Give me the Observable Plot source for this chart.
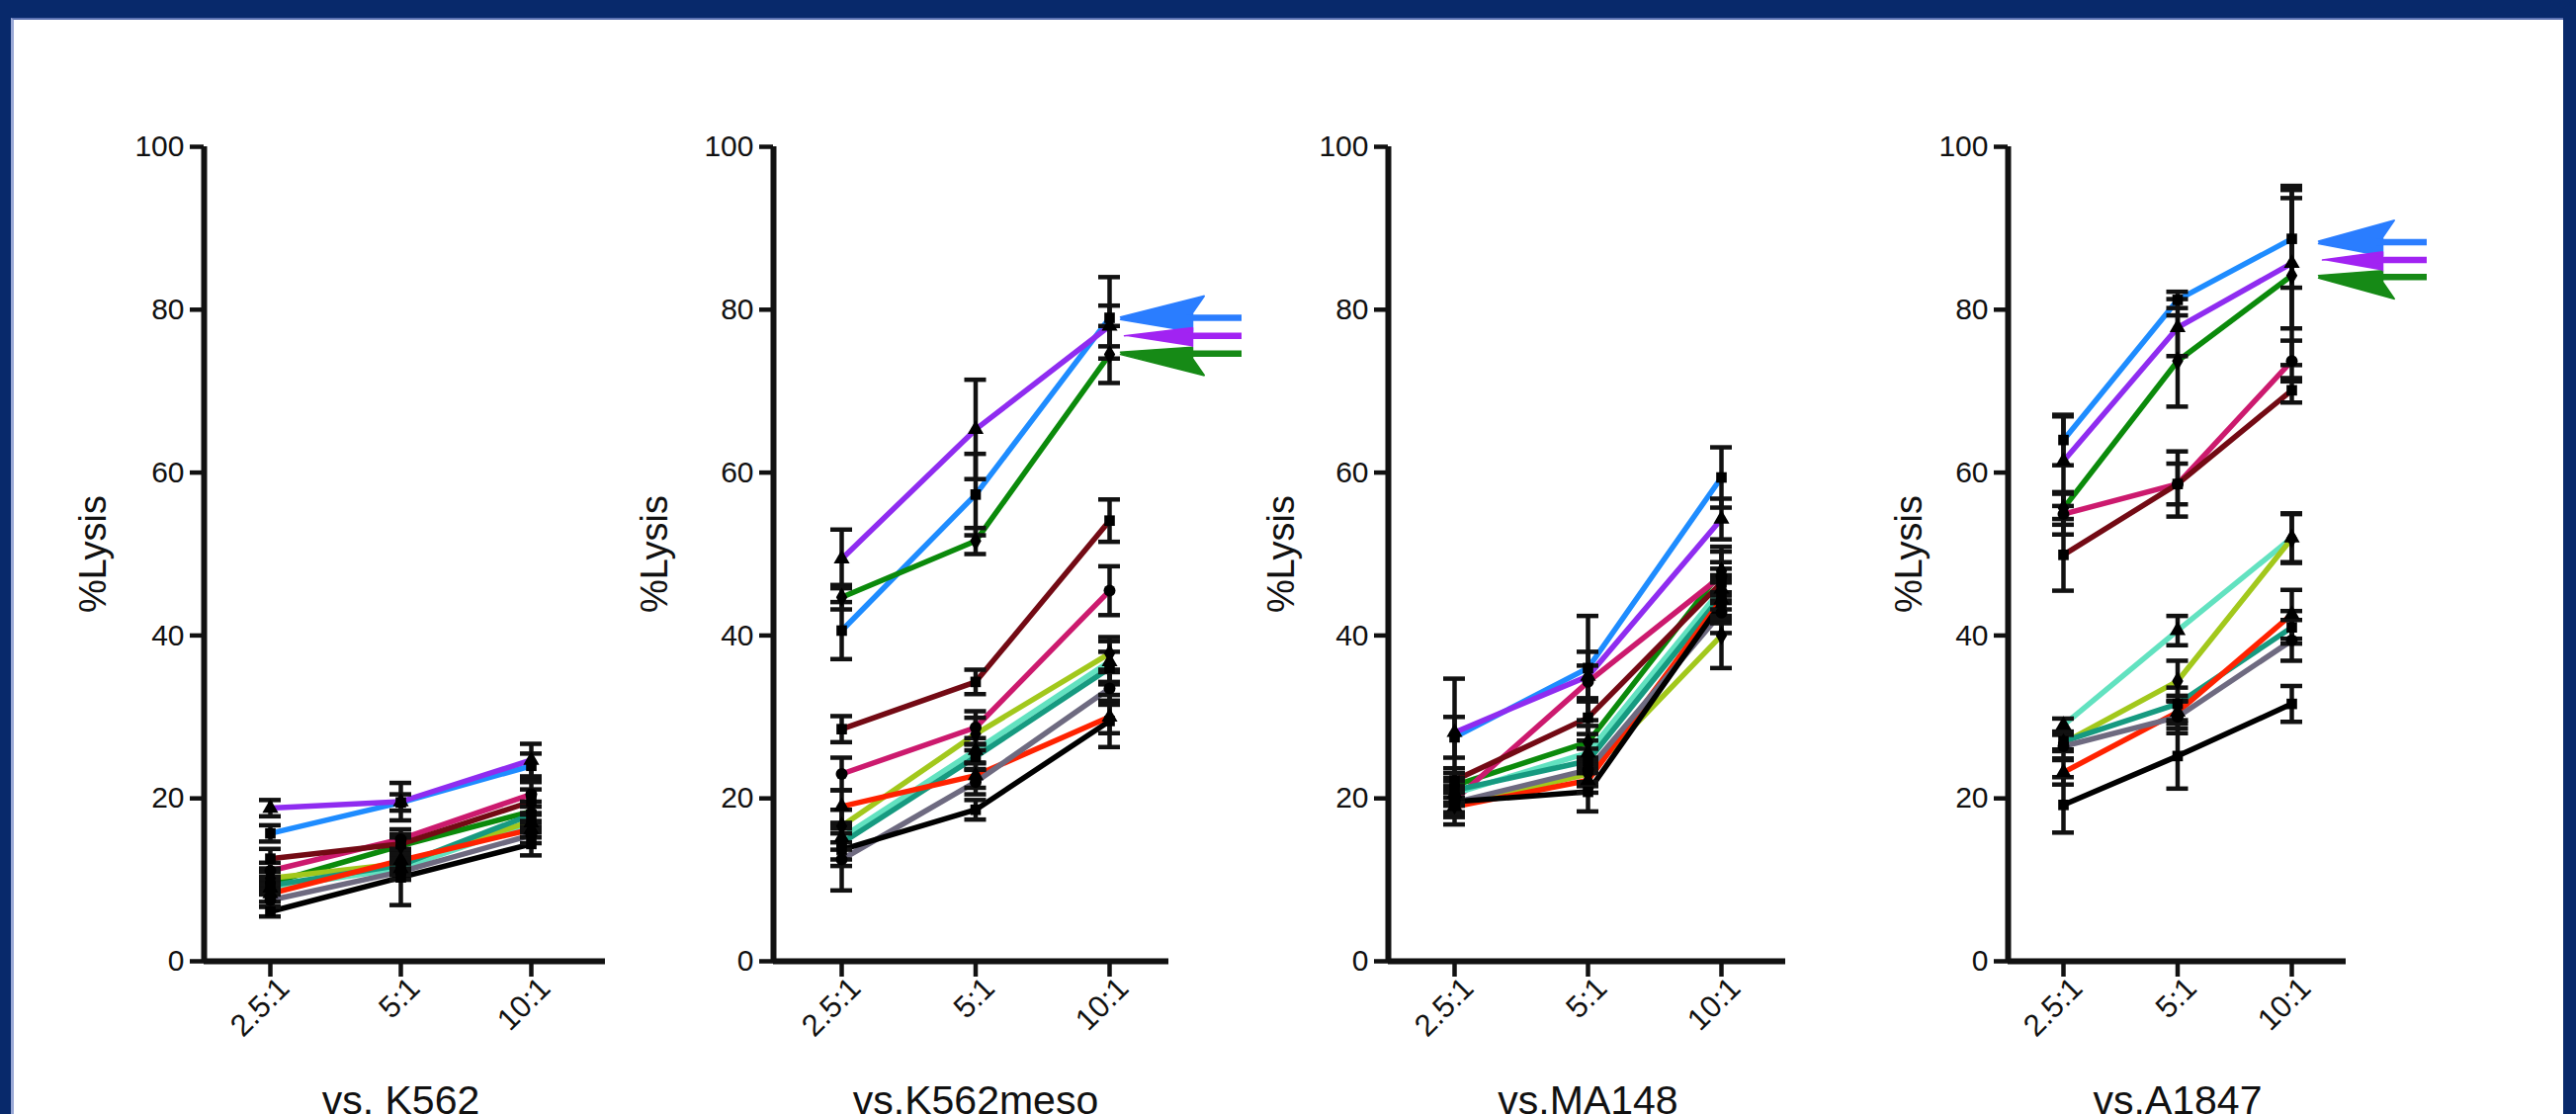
<!DOCTYPE html>
<html><head><meta charset="utf-8">
<script src="https://cdn.jsdelivr.net/npm/d3@7"></script>
<script src="https://cdn.jsdelivr.net/npm/@observablehq/plot@0.6"></script>
<style>
html,body{margin:0;padding:0;background:#08296b;}
#frame{position:relative;width:2606px;height:1127px;background:#08296b;overflow:hidden;font-family:"Liberation Sans",Arial,sans-serif;}
#inner{position:absolute;left:11px;top:18px;right:13px;bottom:-10px;background:#fff;border-left:3px solid #9aa9d6;border-top:2px solid #5a70b0;}
.panel{position:absolute;top:0;}
</style></head>
<body><div id="frame"><div id="inner"></div></div>
<script>
// ---- data ----
const ratios = ["2.5:1", "5:1", "10:1"];
const targets = ["vs. K562", "vs.K562meso", "vs.MA148", "vs.A1847"];
const seriesNames = ["blue", "purple", "green", "crimson", "maroon", "aqua", "yellowgreen", "teal", "red", "gray", "black"];
const seriesColors = ["#1e8cff", "#8f2cf0", "#0b8a0b", "#cc1a6e", "#730a14", "#62e2c0", "#a2c81c", "#169a80", "#ff2200", "#6e6a80", "#000000"];

const k562Lysis = [
  [15.7, 19.5, 24.0], [18.8, 19.6, 24.7], [9.6, 14.2, 18.4], [11.1, 15.0, 20.5], [12.6, 14.4, 19.6],
  [9.0, 11.4, 17.0], [10.2, 12.0, 17.2], [9.3, 11.8, 18.0], [8.3, 12.4, 16.2], [7.5, 11.0, 15.5], [6.1, 10.3, 14.4]
];
const k562Sem = [
  [1.0, 1.0, 1.5], [1.0, 2.3, 2.0], [0.8, 1.0, 1.2], [1.0, 1.2, 1.5], [1.2, 1.2, 1.5],
  [0.8, 0.8, 1.0], [0.8, 0.8, 1.0], [0.8, 0.8, 1.0], [1.0, 1.0, 1.0], [0.8, 1.0, 1.0], [0.6, 3.4, 1.4]
];
const k562mesoLysis = [
  [40.6, 57.3, 79.0], [49.4, 65.3, 78.0], [44.7, 51.6, 74.5], [23.0, 28.7, 45.5], [28.5, 34.3, 54.1],
  [15.2, 25.9, 36.8], [16.6, 27.9, 37.8], [14.5, 25.1, 36.0], [19.0, 22.8, 30.0], [12.5, 22.0, 33.5], [13.7, 18.6, 29.5]
];
const k562mesoSem = [
  [3.5, 5.0, 5.0], [3.6, 6.1, 2.5], [1.5, 1.6, 3.5], [2.0, 2.0, 3.0], [1.6, 1.5, 2.6],
  [1.5, 1.5, 2.5], [2.0, 2.0, 2.0], [2.0, 1.5, 2.0], [2.0, 1.5, 2.0], [3.8, 1.5, 2.0], [2.0, 1.2, 3.2]
];
const ma148Lysis = [
  [27.5, 36.0, 59.4], [28.1, 35.0, 54.3], [21.6, 26.9, 47.9], [19.8, 34.3, 47.3], [22.2, 29.9, 46.5],
  [20.6, 25.6, 45.7], [19.2, 23.0, 40.0], [21.0, 24.6, 44.9], [19.0, 22.2, 44.4], [19.5, 23.5, 42.8], [19.6, 20.8, 44.0]
];
const ma148Sem = [
  [2.5, 6.4, 3.7], [6.6, 3.0, 2.5], [1.5, 2.0, 3.0], [1.5, 2.0, 3.0], [1.5, 2.0, 2.5],
  [1.5, 1.5, 2.5], [1.5, 1.5, 4.0], [1.5, 1.5, 2.5], [2.2, 1.5, 2.5], [1.5, 1.5, 2.5], [1.5, 2.4, 2.5]
];
const a1847Lysis = [
  [64.0, 81.2, 88.7], [61.4, 77.8, 85.7], [55.6, 73.7, 84.2], [54.9, 58.6, 73.7], [49.9, 58.6, 70.1],
  [29.0, 40.6, 52.0], [26.8, 34.4, 51.9], [27.0, 31.6, 41.0], [23.2, 30.6, 42.6], [26.4, 30.0, 39.4], [19.2, 25.2, 31.6]
];
const a1847Sem = [
  [3.1, 1.0, 6.0], [5.5, 3.5, 8.0], [2.0, 5.6, 11.0], [2.5, 4.0, 2.5], [4.4, 2.5, 1.5],
  [0.8, 1.8, 3.0], [1.0, 2.5, 3.0], [1.0, 2.0, 2.0], [1.5, 2.0, 3.0], [1.5, 2.0, 2.5], [3.4, 4.0, 2.2]
];
const arrowSeries = ["blue", "purple", "green"];
const k562mesoArrowLevels = [79.0, 76.8, 74.6];
const a1847ArrowLevels = [88.3, 86.1, 84.0];

// ---- layout (page pixels) ----
const layout = [
  {axis: 206, ticks: [273, 404, 537], end: 612, labelOffset: 112},
  {axis: 782, ticks: [851, 986, 1122], end: 1182, labelOffset: 120, arrow: {tip: 11, back: 96, end: 134}},
  {axis: 1404, ticks: [1471, 1607, 1741], end: 1806, labelOffset: 108},
  {axis: 2031, ticks: [2087, 2203, 2318], end: 2373, labelOffset: 100, arrow: {tip: 27, back: 104, end: 137}}
];
const symbols = ["square", "triangle", "diamond", "circle", "square", "triangle", "diamond", "square", "triangle", "circle", "square"];
const arrowColors = {blue: "#2a7dff", purple: "#a123f2", green: "#168a16"};
const TOP = 148, BOTTOM = 972, H = 1127;

const panels = [
  {title: targets[0], values: k562Lysis, errs: k562Sem},
  {title: targets[1], values: k562mesoLysis, errs: k562mesoSem, arrows: k562mesoArrowLevels},
  {title: targets[2], values: ma148Lysis, errs: ma148Sem},
  {title: targets[3], values: a1847Lysis, errs: a1847Sem, arrows: a1847ArrowLevels}
];

const frame = document.getElementById("frame");
panels.forEach((p, k) => {
  const L = layout[k];
  const step = (L.ticks[2] - L.ticks[0]) / 2;
  const d0 = -(L.ticks[0] - L.axis) / step;
  const d1 = 2 + (L.end - L.ticks[2]) / step;
  const left = L.axis - 180, W = 640;
  const rows = [];
  seriesNames.forEach((s, j) => p.values[j].forEach((v, i) => rows.push({s, i, v, e: p.errs[j][i]})));
  const cap = 11 / step;
  const marks = [
    Plot.axisY({ticks: [0, 20, 40, 60, 80, 100], tickSize: 14, tickPadding: 6, fontSize: 30, strokeWidth: 4.5, label: null}),
    // tick marks only
    Plot.tickX([0, 1, 2], {x: d => d, y: 0, dy: 8, inset: 0, strokeWidth: 4.5}),
    // rotated category labels
    Plot.axisX({ticks: [0, 1, 2], tickFormat: i => ratios[i], tickRotate: -45, tickSize: 0, tickPadding: 18, fontSize: 31, dx: 14, dy: 4, label: null}),
    Plot.ruleY([0], {x1: d0, x2: d1, strokeWidth: 6}),
    Plot.ruleX([d0], {y1: 0, y2: 100, strokeWidth: 6}),
    Plot.line(rows, {x: "i", y: "v", z: "s", stroke: "s", strokeWidth: 5.5}),
    Plot.ruleX(rows, {x: "i", y1: d => d.v - d.e, y2: d => d.v + d.e, strokeWidth: 4.5}),
    Plot.ruleY(rows, {y: d => d.v + d.e, x1: d => d.i - cap, x2: d => d.i + cap, strokeWidth: 4.5}),
    Plot.ruleY(rows, {y: d => d.v - d.e, x1: d => d.i - cap, x2: d => d.i + cap, strokeWidth: 4.5}),
    Plot.dot(rows, {x: "i", y: "v", symbol: "s", r: 6, fill: "black"}),
    Plot.text(["%Lysis"], {text: d => d, frameAnchor: "left", textAnchor: "middle", rotate: -90, dx: -L.labelOffset, fontSize: 38}),
    Plot.text([p.title], {text: d => d, x: () => 1, frameAnchor: "bottom", dy: H - BOTTOM - 1, lineAnchor: "bottom", fontSize: 41})
  ];
  // x tick marks drawn as short rules hanging below the axis
  marks[1] = Plot.ruleX([0, 1, 2], {x: d => d, y1: 0, y2: 0, strokeWidth: 4.5, insetBottom: -16});
  if (p.arrows) {
    const A = L.arrow;
    const u = 1 / step;
    const xt = 2 + A.tip * u, xb = 2 + A.back * u, xe = 2 + A.end * u, xn = xb - 12 * u;
    const [yB, yP, yG] = p.arrows;
    const heads = {
      blue: [[xt, yB + 0.1], [xb, yB + 2.7], [xn, yB + 0.6], [xn, yP + 0.5], [xt, yB - 0.2]],
      green: [[xt, yG - 0.1], [xb, yG - 2.7], [xn, yG - 0.6], [xn, yG + 0.8], [xt, yG + 0.2]],
      purple: [[xt + 4 * u, yP], [xn, yP + 1.0], [xn, yP - 1.3]]
    };
    ["blue", "green", "purple"].forEach(s => {
      const j = arrowSeries.indexOf(s);
      const pts = heads[s].map(([x, y]) => ({x, y}));
      marks.push(Plot.line(pts, {x: "x", y: "y", fill: arrowColors[s], stroke: arrowColors[s], strokeWidth: 1.5, strokeLinejoin: "miter"}));
      marks.push(Plot.ruleY([p.arrows[j]], {x1: xn - 6 * u, x2: xe, stroke: arrowColors[s], strokeWidth: 6.5}));
    });
  }
  const svg = Plot.plot({
    width: W, height: H,
    marginLeft: L.axis - left, marginRight: left + W - L.end, marginTop: TOP, marginBottom: H - BOTTOM,
    x: {type: "linear", domain: [d0, d1]},
    y: {domain: [0, 100]},
    color: {domain: seriesNames, range: seriesColors},
    symbol: {domain: seriesNames, range: symbols},
    style: {fontFamily: "'Liberation Sans', Arial, sans-serif", color: "#111", background: "transparent", overflow: "visible"},
    marks
  });
  svg.classList.add("panel");
  svg.style.left = left + "px";
  svg.style.position = "absolute";
  svg.style.top = "0px";
  svg.style.maxWidth = "none";
  frame.appendChild(svg);
});
</script>
</body></html>
